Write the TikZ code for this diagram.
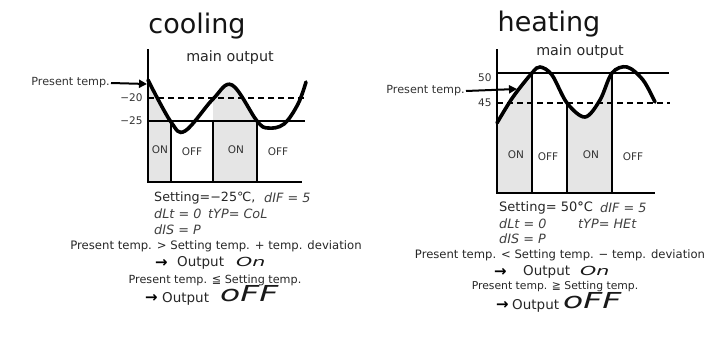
\documentclass[tikz,border=0pt]{standalone}
\usepackage{fontspec}
\setmainfont{DejaVu Sans}
\usetikzlibrary{arrows.meta}
\newcommand{\fs}[1]{\fontsize{#1}{#1}\selectfont}
\tikzset{
  axisline/.style={line width=2pt},
  levelline/.style={line width=1.8pt},
  dashline/.style={line width=1.8pt, dash pattern=on 6pt off 4pt},
  wave/.style={line width=3.6pt, line cap=round},
  onfill/.style={fill=black!10},
  title/.style={font=\fs{27}, text=black!92},
  mainlbl/.style={font=\fs{14.3}, text=black!85},
  small/.style={font=\fs{10.5}, text=black!80},
  plbl/.style={font=\fs{11.2}, text=black!80, inner sep=1pt},
  onoff/.style={font=\fs{10.5}, text=black!80},
  bt/.style={text=black!85, inner sep=0pt},
  seg/.style={font=\fs{12.8}\itshape, text=black!75, inner sep=0pt},
  bigseg/.style={text=black!90, inner sep=0pt},
  arr/.style={font=\fs{15}\bfseries, inner sep=0pt},
  ptr/.style={line width=2pt, -{Triangle[length=8pt,width=8pt]}},
}
\begin{document}
\begin{tikzpicture}[x=1pt,y=-1pt]
\useasboundingbox (0,0) rectangle (716,348);

% ===== cooling =====
\node[title] (tc) at (197,26) {cooling};
\begin{scope}
  \clip (148,40) rectangle (171,182) (213,40) rectangle (257,182);
  \fill[onfill] (148,182) -- plot[smooth, tension=0.6] coordinates {(148,80) (171,122) (185,131) (213,99) (232,85) (257,121) (268,128) (284,124) (298,104) (306,82)} -- (306,182) -- cycle;
\end{scope}
\draw[dashline] (148,98) -- (305,98);
\draw[levelline] (148,121) -- (305,121);
\draw[levelline] (171,121) -- (171,182);
\draw[levelline] (213,121) -- (213,182);
\draw[levelline] (257,121) -- (257,182);
\draw[axisline] (148,49) -- (148,182) -- (302,182);
\draw[wave] plot[smooth, tension=0.6] coordinates {(148,80) (171,122) (185,131) (213,99) (232,85) (257,121) (268,128) (284,124) (298,104) (306,82)};
\node[mainlbl] (mc) at (230,58) {main output};
\node[small, anchor=east] (c20) at (146,98) {−20};
\node[small, anchor=east] (c25) at (146,121) {−25};
\node[plbl, anchor=east] (pc) at (111,83) {Present temp.};
\coordinate (pct) at (147,84);
\draw[ptr] (pc.east) -- (pct);
\node[onoff] (c1) at (160,150) {ON};
\node[onoff] (c2) at (192,152) {OFF};
\node[onoff] (c3) at (236,150) {ON};
\node[onoff] (c4) at (278,152) {OFF};

\node[bt, anchor=west, font=\fs{12.7}] (cs1) at (154,198) {Setting=−25℃,};
\node[seg, anchor=west] (cs1b) at (264,198) {dIF = 5};
\node[seg, anchor=west] (cs2) at (154,214) {dLt = 0};
\node[seg, anchor=west] (cs2b) at (208,214) {tYP= CoL};
\node[seg, anchor=west] (cs3) at (154,230) {dIS = P};
\node[bt, font=\fs{11.65}] (cs4) at (216,246) {Present temp. > Setting temp. + temp. deviation};
\node[arr, anchor=west] (ca1) at (155,263) {→};
\node[bt, anchor=west, font=\fs{13.5}] (co1) at (177,263) {Output};
\node[bigseg, anchor=west, font=\fs{12.5}\itshape] (cv1) at (236,262) {\scalebox{1.65}[1]{On}};
\node[bt, font=\fs{11.2}] (cs6) at (215,280) {Present temp. ≦ Setting temp.};
\node[arr, anchor=west] (ca2) at (145,298) {→};
\node[bt, anchor=west, font=\fs{13.5}] (co2) at (162,299) {Output};
\node[bigseg, anchor=west, font=\fs{22}\itshape] (cv2) at (220,294) {\scalebox{1.5}[1]{oFF}};

% ===== heating =====
\node[title] (th) at (549,24) {heating};
\begin{scope}
  \clip (497,40) rectangle (532,193) (567,40) rectangle (612,193);
  \fill[onfill] (497,193) -- plot[smooth, tension=0.55] coordinates {(497,123) (513,97) (532,73) (540,67) (552,75) (567,103) (585,117) (600,100) (612,73) (627,67) (643,80) (655,102)} -- (655,193) -- cycle;
\end{scope}
\draw[levelline] (497,73) -- (669,73);
\draw[dashline] (497,103) -- (670,103);
\draw[levelline] (532,73) -- (532,193);
\draw[levelline] (567,103) -- (567,193);
\draw[levelline] (612,73) -- (612,193);
\draw[axisline] (497,49) -- (497,193) -- (655,193);
\draw[wave] plot[smooth, tension=0.55] coordinates {(497,123) (513,97) (532,73) (540,67) (552,75) (567,103) (585,117) (600,100) (612,73) (627,67) (643,80) (655,102)};
\node[mainlbl] (mh) at (580,52) {main output};
\node[small, anchor=east] (h50) at (495,78) {50};
\node[small, anchor=east] (h45) at (495,103) {45};
\node[plbl, anchor=east] (ph) at (466,91) {Present temp.};
\coordinate (pht) at (517,89);
\draw[ptr] (ph.east) -- (pht);
\node[onoff] (h1) at (516,155) {ON};
\node[onoff] (h2) at (548,157) {OFF};
\node[onoff] (h3) at (591,155) {ON};
\node[onoff] (h4) at (633,157) {OFF};

\node[bt, anchor=west, font=\fs{13}] (hs1) at (499,208) {Setting= 50{\bfseries °}C};
\node[seg, anchor=west] (hs1b) at (600,208) {dIF = 5};
\node[seg, anchor=west] (hs2) at (499,224) {dLt = 0};
\node[seg, anchor=west] (hs2b) at (578,224) {tYP= HEt};
\node[seg, anchor=west] (hs3) at (499,239) {dIS = P};
\node[bt, font=\fs{11.6}] (hs4) at (560,255) {Present temp. < Setting temp. − temp. deviation};
\node[arr, anchor=west] (ha1) at (494,272) {→};
\node[bt, anchor=west, font=\fs{13.5}] (ho1) at (523,272) {Output};
\node[bigseg, anchor=west, font=\fs{12.5}\itshape] (hv1) at (580,271) {\scalebox{1.65}[1]{On}};
\node[bt, font=\fs{10.8}] (hs6) at (555,287) {Present temp. ≧ Setting temp.};
\node[arr, anchor=west] (ha2) at (496,305) {→};
\node[bt, anchor=west, font=\fs{13.5}] (ho2) at (512,306) {Output};
\node[bigseg, anchor=west, font=\fs{22}\itshape] (hv2) at (563,301) {\scalebox{1.5}[1]{oFF}};
\end{tikzpicture}
\end{document}
